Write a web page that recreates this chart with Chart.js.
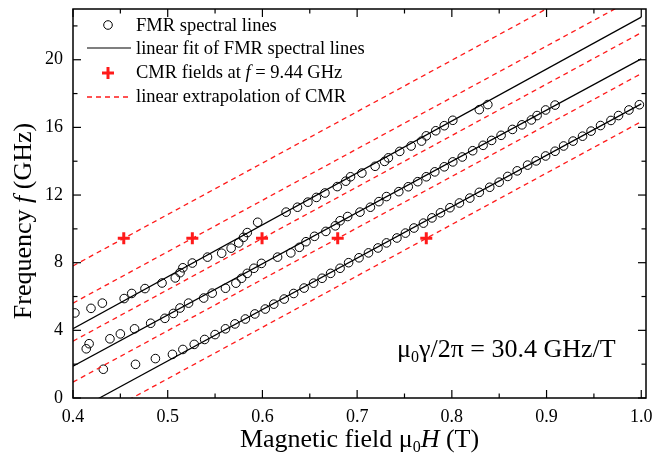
<!DOCTYPE html>
<html>
<head>
<meta charset="utf-8">
<script src="https://cdn.jsdelivr.net/npm/chart.js@4.4.1/dist/chart.umd.min.js"></script>
<style>
    html, body { margin: 0; background: #fff; }
    #wrap { width: 655px; height: 461px; }
</style>
</head>
<body>
<div id="wrap"><canvas id="chart"></canvas></div>
<script>
// FMR spectral lines, [field (T), frequency (GHz)]
const fmrUpper = [
    [0.402, 5.03], [0.419, 5.30], [0.431, 5.61], [0.454, 5.88], [0.462, 6.18], [0.476, 6.47],
    [0.494, 6.80], [0.508, 7.10], [0.513, 7.41], [0.516, 7.70], [0.526, 7.98], [0.542, 8.33],
    [0.557, 8.56], [0.567, 8.86], [0.575, 9.17], [0.580, 9.50], [0.584, 9.78], [0.595, 10.39],
    [0.625, 10.99], [0.637, 11.28], [0.648, 11.58], [0.657, 11.86], [0.666, 12.12], [0.679, 12.50],
    [0.688, 12.82], [0.693, 13.08], [0.705, 13.30], [0.719, 13.70], [0.729, 13.99], [0.733, 14.20],
    [0.745, 14.58], [0.757, 14.90], [0.768, 15.19], [0.773, 15.50], [0.783, 15.80], [0.792, 16.10],
    [0.801, 16.42], [0.829, 17.05], [0.838, 17.35]
];
const fmrMiddle = [
    [0.414, 2.91], [0.417, 3.21], [0.439, 3.50], [0.450, 3.79], [0.465, 4.09], [0.482, 4.42],
    [0.497, 4.71], [0.506, 5.00], [0.513, 5.32], [0.522, 5.61], [0.538, 5.91], [0.547, 6.20],
    [0.561, 6.49], [0.572, 6.79], [0.578, 7.08], [0.584, 7.37], [0.591, 7.67], [0.599, 7.96],
    [0.616, 8.33], [0.630, 8.58], [0.639, 8.91], [0.646, 9.24], [0.655, 9.56], [0.667, 9.85],
    [0.677, 10.18], [0.682, 10.48], [0.690, 10.73], [0.703, 10.99], [0.714, 11.28], [0.723, 11.61],
    [0.731, 11.91], [0.744, 12.20], [0.754, 12.49], [0.764, 12.79], [0.773, 13.08], [0.782, 13.37],
    [0.792, 13.67], [0.801, 13.96], [0.811, 14.25], [0.822, 14.62], [0.833, 14.94], [0.842, 15.23],
    [0.852, 15.53], [0.864, 15.88], [0.874, 16.15], [0.884, 16.44], [0.890, 16.70], [0.899, 17.03],
    [0.909, 17.32]
];
const fmrLower = [
    [0.432, 1.70], [0.466, 1.99], [0.487, 2.33], [0.505, 2.58], [0.516, 2.87], [0.528, 3.17],
    [0.539, 3.46], [0.550, 3.75], [0.561, 4.09], [0.571, 4.38], [0.582, 4.67], [0.592, 4.97],
    [0.603, 5.26], [0.612, 5.55], [0.623, 5.85], [0.633, 6.18], [0.644, 6.50], [0.654, 6.79],
    [0.663, 7.08], [0.672, 7.37], [0.682, 7.67], [0.691, 8.00], [0.702, 8.29], [0.712, 8.58],
    [0.722, 8.87], [0.731, 9.17], [0.742, 9.46], [0.751, 9.75], [0.760, 10.05], [0.770, 10.34],
    [0.779, 10.65], [0.788, 10.95], [0.798, 11.25], [0.808, 11.53], [0.819, 11.82], [0.829, 12.16],
    [0.840, 12.46], [0.850, 12.76], [0.859, 13.10], [0.869, 13.43], [0.880, 13.77], [0.889, 14.02],
    [0.899, 14.31], [0.909, 14.59], [0.918, 14.90], [0.928, 15.19], [0.938, 15.48], [0.947, 15.78],
    [0.957, 16.11], [0.968, 16.41], [0.976, 16.70], [0.987, 17.03], [0.998, 17.34]
];

// linear fits, end points [field, freq]
const fitUpper = [[0.4, 4.10], [1.0, 22.52]];
const fitMiddle = [[0.4, 1.88], [1.0, 20.05]];
const fitLower = [[0.4, -0.85], [1.0, 17.39]];

// CMR fields at f = 9.44 GHz
const cmrFields = [0.4536, 0.526, 0.5996, 0.6795, 0.773];
const cmrFreq = 9.44;

// extrapolation lines through the CMR points, freq at 0.4 T and 1.0 T
const cmrAt04 = [7.81, 5.61, 3.36, 0.94, -1.90];
const cmrAt10 = [26.05, 23.85, 21.60, 19.18, 16.34];

const xTicks = [0.4, 0.5, 0.6, 0.7, 0.8, 0.9, 1.0];
const yTicks = [0, 4, 8, 12, 16, 20];

const SERIF = '"Liberation Serif", "Times New Roman", serif';
const RED = '#ff1a1a';

const pts = arr => arr.map(p => ({ x: p[0], y: p[1] }));

const datasets = [];
cmrAt04.forEach((f0, i) => {
    datasets.push({
        type: 'line', data: [{ x: 0.4, y: f0 }, { x: 1.0, y: cmrAt10[i] }],
        borderColor: RED, borderWidth: 1.3, borderDash: [5, 4], pointRadius: 0, fill: false
    });
});
[fitUpper, fitMiddle, fitLower].forEach(f => {
    datasets.push({
        type: 'line', data: pts(f),
        borderColor: '#000', borderWidth: 1.2, pointRadius: 0, fill: false
    });
});
[fmrUpper, fmrMiddle, fmrLower].forEach(b => {
    datasets.push({
        type: 'scatter', data: pts(b),
        pointStyle: 'circle', pointRadius: 4.3, borderColor: '#000', borderWidth: 1,
        backgroundColor: 'rgba(0,0,0,0)'
    });
});
datasets.push({
    type: 'scatter', data: cmrFields.map(x => ({ x: x, y: cmrFreq })),
    pointStyle: 'cross', pointRadius: 6, borderColor: RED, borderWidth: 3
});

// draws a run of text pieces with their own fonts
function richText(ctx, parts, x, y, align) {
    let w = 0;
    parts.forEach(p => { ctx.font = p.font; w += ctx.measureText(p.t).width; });
    let cx = align === 'center' ? x - w / 2 : x;
    parts.forEach(p => {
        ctx.font = p.font;
        ctx.fillText(p.t, cx, y + (p.dy || 0));
        cx += ctx.measureText(p.t).width;
    });
}

const decorations = {
    id: 'decorations',
    afterDatasetsDraw(chart) {
        const ctx = chart.ctx, a = chart.chartArea;
        const xs = chart.scales.x, ys = chart.scales.y;
        const line = (x1, y1, x2, y2) => { ctx.beginPath(); ctx.moveTo(x1, y1); ctx.lineTo(x2, y2); ctx.stroke(); };
        ctx.save();
        ctx.strokeStyle = '#000';
        ctx.lineWidth = 1.5;
        ctx.strokeRect(a.left, a.top, a.right - a.left, a.bottom - a.top);

        // inward ticks on all four sides
        ctx.lineWidth = 1.2;
        for (let i = 0; i <= 12; i++) {
            const px = xs.getPixelForValue(0.4 + i * 0.05);
            const len = i % 2 ? 4.5 : 8;
            line(px, a.bottom, px, a.bottom - len);
            line(px, a.top, px, a.top + len);
        }
        for (let i = 0; i <= 11; i++) {
            const py = ys.getPixelForValue(i * 2);
            const len = i % 2 ? 4.5 : 8;
            line(a.left, py, a.left + len, py);
            line(a.right, py, a.right - len, py);
        }

        // legend
        ctx.fillStyle = '#000';
        ctx.textBaseline = 'alphabetic';
        const lf = '18.5px ' + SERIF, lfi = 'italic 18.5px ' + SERIF;
        ctx.lineWidth = 1;
        ctx.beginPath(); ctx.arc(108, 25, 4.3, 0, Math.PI * 2); ctx.stroke();
        ctx.lineWidth = 1.2;
        line(87, 48, 131, 48);
        ctx.strokeStyle = RED; ctx.lineWidth = 3;
        line(102, 73, 114, 73); line(108, 67, 108, 79);
        ctx.lineWidth = 1.3; ctx.setLineDash([5, 4]);
        line(87, 97, 131, 97);
        ctx.setLineDash([]);
        richText(ctx, [{ t: 'FMR spectral lines', font: lf }], 136, 31);
        richText(ctx, [{ t: 'linear fit of FMR spectral lines', font: lf }], 136, 54);
        richText(ctx, [{ t: 'CMR fields at ', font: lf }, { t: 'f', font: lfi }, { t: ' = 9.44 GHz', font: lf }], 136, 78);
        richText(ctx, [{ t: 'linear extrapolation of CMR', font: lf }], 136, 102);

        // annotation
        const af = '26px ' + SERIF, afs = '16px ' + SERIF;
        richText(ctx, [{ t: 'μ', font: af }, { t: '0', font: afs, dy: 5 }, { t: 'γ/2π = 30.4 GHz/T', font: af }], 397, 357);

        // axis titles
        const tf = '26px ' + SERIF, tfi = 'italic 26px ' + SERIF, tfs = '16px ' + SERIF;
        richText(ctx, [{ t: 'Magnetic field μ', font: tf }, { t: '0', font: tfs, dy: 5 }, { t: 'H', font: tfi }, { t: ' (T)', font: tf }],
            (a.left + a.right) / 2, 447, 'center');
        ctx.translate(31, 221);
        ctx.rotate(-Math.PI / 2);
        richText(ctx, [{ t: 'Frequency ', font: tf }, { t: 'f', font: tfi }, { t: ' (GHz)', font: tf }], 0, 0, 'center');
        ctx.restore();
    }
};

new Chart(document.getElementById('chart'), {
    data: { datasets: datasets },
    options: {
        responsive: true,
        maintainAspectRatio: false,
        animation: false,
        devicePixelRatio: 1,
        layout: { padding: { top: 5, right: 6, left: 0, bottom: 0 } },
        plugins: { legend: { display: false }, tooltip: { enabled: false } },
        scales: {
            x: {
                type: 'linear', min: 0.4, max: 1.005,
                grid: { display: false, drawTicks: false },
                border: { display: false },
                afterBuildTicks: s => { s.ticks = xTicks.map(v => ({ value: v })); },
                afterFit: s => { s.height = 63; s.paddingLeft = 0; s.paddingRight = 0; },
                ticks: {
                    padding: 8, color: '#000', maxRotation: 0,
                    font: { family: SERIF, size: 18 },
                    callback: v => v.toFixed(1)
                }
            },
            y: {
                type: 'linear', min: 0, max: 23,
                grid: { display: false, drawTicks: false },
                border: { display: false },
                afterBuildTicks: s => { s.ticks = yTicks.map(v => ({ value: v })); },
                afterFit: s => { s.width = 73; s.paddingTop = 0; s.paddingBottom = 0; },
                ticks: {
                    padding: 10, color: '#000',
                    font: { family: SERIF, size: 18 },
                    callback: v => String(v)
                }
            }
        }
    },
    plugins: [decorations]
});
</script>
</body>
</html>
